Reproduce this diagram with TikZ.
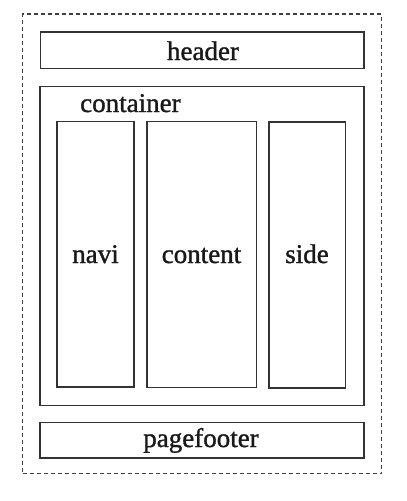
\documentclass[tikz,border=0pt]{standalone}
\usepackage{fontspec}
\setmainfont{Liberation Serif}
\newfontfamily\heavyserif[FakeBold=1.2]{Liberation Serif}
\begin{document}
\begin{tikzpicture}[x=1pt,y=-1pt,
  box/.style={draw=black!80,line width=1.5pt,inner sep=0pt,outer sep=0pt},
  lbl/.style={font=\heavyserif\fontsize{27}{30}\selectfont,inner sep=0pt,anchor=base,text=black!90}]
\useasboundingbox (0,0) rectangle (407,501);
\node[draw=black!75,line width=1.3pt,dash pattern=on 4pt off 3pt,minimum width=359pt,minimum height=459.5pt,inner sep=0pt] (page) at (202,243.75) {};
\node[box,minimum width=323.5pt,minimum height=36.5pt] (header) at (202.25,50.25) {};
\node[box,minimum width=324pt,minimum height=319pt] (container) at (202,246) {};
\node[box,minimum width=77pt,minimum height=265.5pt] (navi) at (95.5,254.25) {};
\node[box,minimum width=109.5pt,minimum height=266pt] (content) at (201.75,254.5) {};
\node[box,minimum width=76.5pt,minimum height=266pt] (side) at (307.25,255) {};
\node[box,minimum width=324pt,minimum height=35.5pt] (pagefooter) at (202,440.25) {};
\node[lbl] (th) at (203,60) {header};
\node[lbl,anchor=base west] (tc) at (80,112) {container};
\node[lbl] (tn) at (95.5,263) {navi};
\node[lbl] (tco) at (201.5,263) {content};
\node[lbl] (ts) at (307,263) {side};
\node[lbl] (tp) at (201,447) {pagefooter};
\end{tikzpicture}
\end{document}
